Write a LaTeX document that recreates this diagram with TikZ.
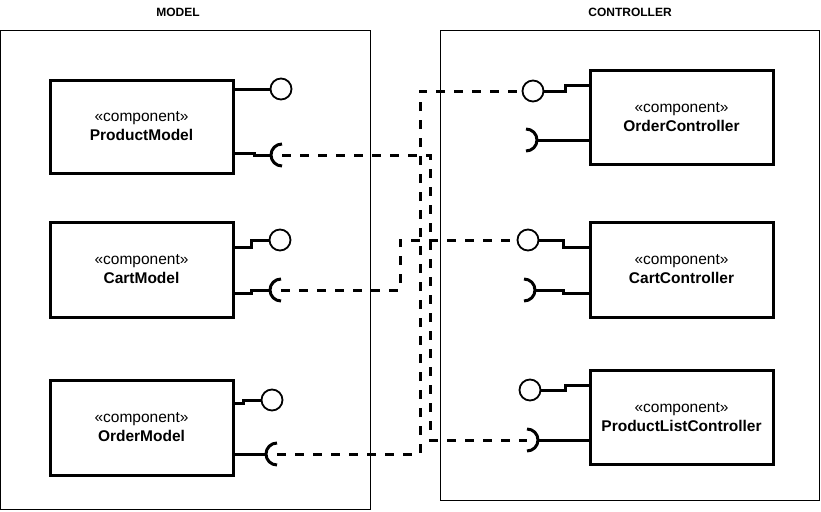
\documentclass[tikz,border=0pt]{standalone}
\usepackage{fontspec}
\setmainfont{Liberation Sans}
\usepackage{tikz}
\usetikzlibrary{calc,positioning}

\begin{document}
\begin{tikzpicture}[x=1pt,y=-1pt]

\tikzstyle{frame}=[draw, line width=1pt]
\tikzstyle{comp}=[draw, line width=3pt, minimum width=183pt, align=center,
                  font=\fontsize{15.5}{19}\selectfont]
\tikzstyle{ball}=[circle, draw, line width=1.8pt, fill=white, minimum size=21pt, inner sep=0pt]
\tikzstyle{wire}=[line width=3pt]
\tikzstyle{dep}=[line width=3pt, dash pattern=on 9pt off 9pt]
\tikzstyle{title}=[font=\fontsize{12}{14}\selectfont\bfseries]

\useasboundingbox (0,0) rectangle (821,511);

% packages
\draw[frame] (0.5,30.5) rectangle (370,509);
\draw[frame] (440,30.5) rectangle (819,500);
\node[title] (tm) at (178,12) {MODEL};
\node[title] (tc) at (630,12) {CONTROLLER};

% components
\node[comp, minimum height=93pt] (pm) at (141.5,126.5) {«component»\\\textbf{ProductModel}};
\node[comp, minimum height=95pt] (cm) at (141.5,269.5) {«component»\\\textbf{CartModel}};
\node[comp, minimum height=95pt] (om) at (141.5,427.5) {«component»\\\textbf{OrderModel}};
\node[comp, minimum height=94pt] (oc) at (681.5,117) {«component»\\\textbf{OrderController}};
\node[comp, minimum height=95pt] (cc) at (681.5,269.5) {«component»\\\textbf{CartController}};
\node[comp, minimum height=94pt] (pl) at (681.5,417) {«component»\\\textbf{ProductListController}};

% provided interfaces
\node[ball] (pmP) at (281,89) {};
\node[ball] (cmP) at (280,240) {};
\node[ball] (omP) at (272,400) {};
\node[ball] (ocP) at (533,91) {};
\node[ball] (ccP) at (528,240) {};
\node[ball] (plP) at (530,390) {};

% required interfaces (socket centres)
\coordinate (pmR) at (282,155);
\coordinate (cmR) at (281,290);
\coordinate (omR) at (277,454);
\coordinate (ocR) at (526,140);
\coordinate (ccR) at (524,290);
\coordinate (plR) at (527,440);

\foreach \s in {pmR,cmR,omR}{\draw[wire] (\s) ++(0,11) arc[start angle=-90,end angle=-270,radius=11pt];}
\foreach \s in {ocR,ccR,plR}{\draw[wire] (\s) ++(0,-11) arc[start angle=90,end angle=-90,radius=11pt];}

% lines to the interfaces
\draw[wire] (pm.east |- pmP) -- (pmP.west);
\draw[wire] (pm.east |- 0,153) -- ++(20,0) |- ($(pmR)+(-11,0)$);
\draw[wire] (cm.east |- 0,247) -- ++(17,0) |- (cmP.west);
\draw[wire] (cm.east |- 0,293) -- ++(17,0) |- ($(cmR)+(-11,0)$);
\draw[wire] (om.east |- 0,403) -- ++(9,0) |- (omP.west);
\draw[wire] (om.east |- omR) -- ($(omR)+(-11,0)$);
\draw[wire] (oc.west |- 0,85) -- ++(-23,0) |- (ocP.east);
\draw[wire] (oc.west |- ocR) -- ($(ocR)+(11,0)$);
\draw[wire] (cc.west |- 0,247) -- ++(-25,0) |- (ccP.east);
\draw[wire] (cc.west |- 0,293) -- ++(-25,0) |- ($(ccR)+(11,0)$);
\draw[wire] (pl.west |- 0,385) -- ++(-23,0) |- (plP.east);
\draw[wire] (pl.west |- plR) -- ($(plR)+(11,0)$);

% dependencies
\draw[dep] (pmR) -- ++(148,0) |- (plR);
\draw[dep] (cmR) -- ++(119,0) |- (ccP.west);
\draw[dep] (omR) -- ++(143,0) |- (ocP.west);

\end{tikzpicture}
\end{document}
